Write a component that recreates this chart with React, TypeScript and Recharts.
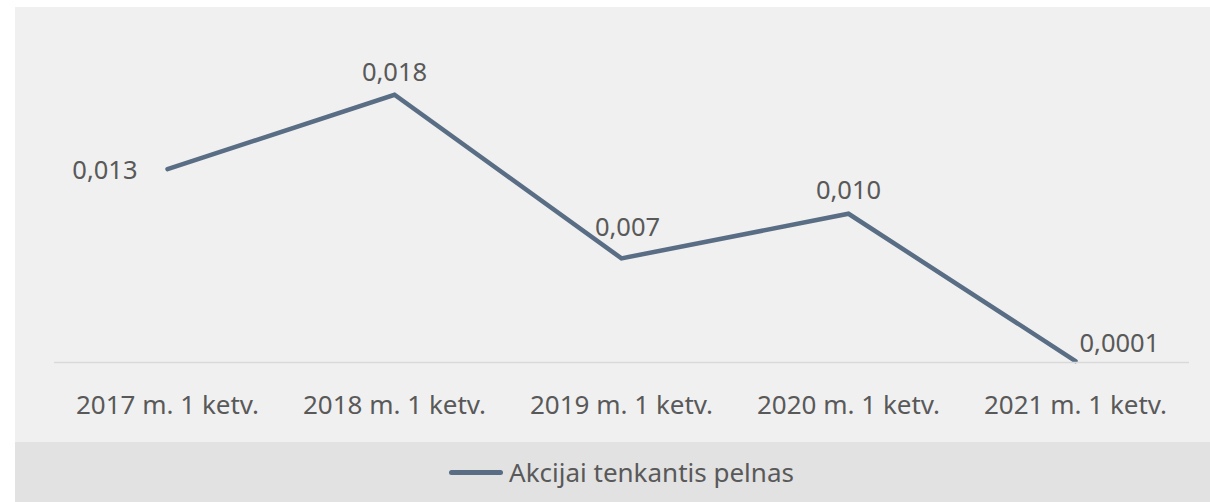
import { CartesianGrid, Legend, Line, LineChart, XAxis, YAxis } from "recharts";

const quarters = [
  "2017 m. 1 ketv.",
  "2018 m. 1 ketv.",
  "2019 m. 1 ketv.",
  "2020 m. 1 ketv.",
  "2021 m. 1 ketv.",
];
const epsValues = [0.013, 0.018, 0.007, 0.01, 0.0001];
const epsLabels = ["0,013", "0,018", "0,007", "0,010", "0,0001"];
const seriesName = "Akcijai tenkantis pelnas";

const data = quarters.map((q, i) => ({ q, eps: epsValues[i], label: epsLabels[i] }));

const FONT = "'Noto Sans', 'Open Sans', sans-serif";
const TEXT = "#595959";
const LINE = "#596d84";

// where each data label sits relative to its point
const labelPlacement = [
  { dx: -30, dy: 0, anchor: "end" },
  { dx: 0, dy: -24, anchor: "middle" },
  { dx: 6, dy: -32, anchor: "middle" },
  { dx: 0, dy: -25, anchor: "middle" },
  { dx: 4, dy: -19, anchor: "start" },
];

function PointLabel(props: any) {
  const { x, y, index } = props;
  const p = labelPlacement[index];
  return (
    <text
      x={x + p.dx}
      y={y + p.dy}
      textAnchor={p.anchor}
      dominantBaseline="central"
      fill={TEXT}
      fontSize={25.5}
      fontFamily={FONT}
    >
      {epsLabels[index]}
    </text>
  );
}

function LegendBox() {
  return (
    <div
      style={{
        height: 60,
        display: "flex",
        alignItems: "center",
        justifyContent: "center",
        fontFamily: FONT,
        fontSize: 26,
        color: TEXT,
      }}
    >
      <span
        style={{
          display: "inline-block",
          width: 54,
          height: 5,
          borderRadius: 3,
          background: LINE,
          marginRight: 6,
        }}
      />
      {seriesName}
    </div>
  );
}

export default function App() {
  return (
    <div
      style={{
        position: "absolute",
        left: 0,
        top: 0,
        width: 1210,
        height: 502,
        background: "#ffffff",
        overflow: "hidden",
      }}
    >
      <div style={{ position: "absolute", left: 15, top: 7, width: 1195, height: 435, background: "#f0f0f0" }} />
      <div style={{ position: "absolute", left: 15, top: 442, width: 1195, height: 60, background: "#e2e2e2" }} />
      <div style={{ position: "absolute", left: 15, top: 7 }}>
        <LineChart width={1195} height={495} data={data} margin={{ top: 58, right: 21, left: 39, bottom: 0 }}>
          <CartesianGrid vertical={false} horizontal={false} />
          <XAxis
            dataKey="q"
            height={79.5}
            padding={{ left: 113.5, right: 113.5 }}
            tickLine={false}
            axisLine={{ stroke: "#d9d9d9", strokeWidth: 1.5 }}
            tickMargin={27}
            tick={{ fill: TEXT, fontSize: 26, fontFamily: FONT }}
            interval={0}
          />
          <YAxis hide domain={[0, 0.02]} />
          <Legend verticalAlign="bottom" height={60} content={() => <LegendBox />} />
          <Line
            type="linear"
            dataKey="eps"
            name={seriesName}
            stroke={LINE}
            strokeWidth={4.5}
            strokeLinecap="round"
            strokeLinejoin="miter"
            dot={false}
            activeDot={false}
            isAnimationActive={false}
            label={<PointLabel />}
          />
        </LineChart>
      </div>
    </div>
  );
}
